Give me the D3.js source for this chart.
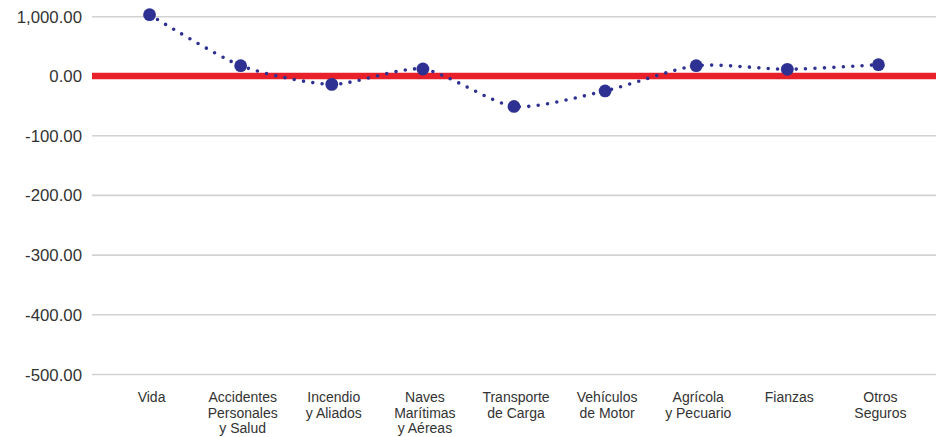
<!DOCTYPE html>
<html><head><meta charset="utf-8">
<script src="https://cdn.jsdelivr.net/npm/d3@7"></script>
<style>body{margin:0;background:#fff}svg{display:block}</style>
</head><body>
<svg id="c" width="936" height="437"></svg>
<script>
const categories = [["Vida"],["Accidentes","Personales","y Salud"],["Incendio","y Aliados"],["Naves","Marítimas","y Aéreas"],["Transporte","de Carga"],["Vehículos","de Motor"],["Agrícola","y Pecuario"],["Fianzas"],["Otros","Seguros"]];
const values = [1034, 174, -14, 118, -51, -25, 174, 113, 191];
const tickValues = [1000, 0, -100, -200, -300, -400, -500];
const tickLabels = ["1,000.00","0.00","-100.00","-200.00","-300.00","-400.00","-500.00"];

const svg = d3.select("#c");
const navy = "#2e3192";
const x = d3.scaleBand().domain(d3.range(categories.length)).range([104, 924]);
const y = d3.scaleLinear().domain([-500, 0, 1000]).range([374.5, 76, 16.7]);

// gridlines
svg.append("g").selectAll("line").data(tickValues.filter(v => v !== 0)).join("line")
  .attr("x1", 92).attr("x2", 936)
  .attr("y1", d => y(d)).attr("y2", d => y(d))
  .attr("stroke", "#d2d2d2").attr("stroke-width", 1.6);

// y labels
svg.append("g").selectAll("text").data(tickValues).join("text")
  .attr("x", 82).attr("y", d => y(d)).attr("dy", "0.36em")
  .attr("text-anchor", "end")
  .attr("font-family", "Liberation Sans, Arial, sans-serif")
  .attr("font-size", 16.8).attr("fill", "#333")
  .text((d, i) => tickLabels[i]);

// zero line
svg.append("line").attr("x1", 92).attr("x2", 936)
  .attr("y1", y(0)).attr("y2", y(0))
  .attr("stroke", "#e8202a").attr("stroke-width", 6.5);

// dotted smooth line
const line = d3.line()
  .x((d, i) => x(i) + x.bandwidth() / 2)
  .y(d => y(d))
  .curve(d3.curveCardinal.tension(0.3));
svg.append("path").datum(values).attr("d", line)
  .attr("fill", "none").attr("stroke", navy).attr("stroke-width", 3.6)
  .attr("stroke-linecap", "round").attr("stroke-dasharray", "0 9.4");

// markers
svg.append("g").selectAll("circle").data(values).join("circle")
  .attr("cx", (d, i) => x(i) + x.bandwidth() / 2)
  .attr("cy", d => y(d)).attr("r", 6.4).attr("fill", navy);

// category labels
const lab = svg.append("g").selectAll("text").data(categories).join("text")
  .attr("text-anchor", "middle")
  .attr("font-family", "Liberation Sans, Arial, sans-serif")
  .attr("font-size", 14).attr("fill", "#333")
  .attr("transform", (d, i) => `translate(${x(i) + x.bandwidth() / 2 + 2},402)`);
lab.selectAll("tspan").data(d => d).join("tspan")
  .attr("x", 0).attr("dy", (d, i) => i === 0 ? 0 : 15.6).text(d => d);
</script>
</body></html>
